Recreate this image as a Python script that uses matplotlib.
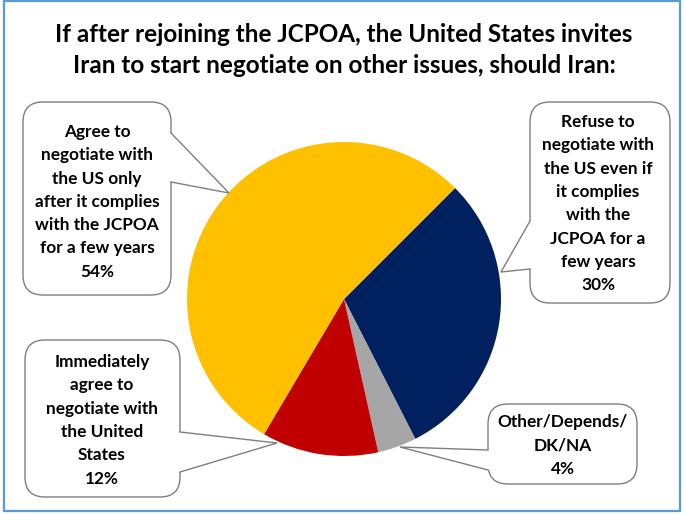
import matplotlib
matplotlib.use("Agg")
import matplotlib.pyplot as plt
from matplotlib.patches import FancyBboxPatch, Polygon, Rectangle

# ---- data ----
title_lines = ["If after rejoining the JCPOA, the United States invites",
               "Iran to start negotiate on other issues, should Iran:"]
categories = [
    "Refuse to\nnegotiate with\nthe US even if\nit complies\nwith the\nJCPOA for a\nfew years",
    "Other/Depends/\nDK/NA",
    "Immediately\nagree to\nnegotiate with\nthe United\nStates",
    "Agree to\nnegotiate with\nthe US only\nafter it complies\nwith the JCPOA\nfor a few years",
]
values = [30, 4, 12, 54]
colors = ["#002060", "#A6A6A6", "#C00000", "#FFC000"]

W, H = 684, 514
FONT = "Lato"

fig = plt.figure(figsize=(W / 100, H / 100), dpi=100)
ax = fig.add_axes([0, 0, 1, 1])


def Y(y):
    return H - y


# pie
cx, cy, R = 344, 299, 157
ax.pie(values, colors=colors, startangle=45, counterclock=False,
       center=(cx, Y(cy)), radius=R, frame=True,
       wedgeprops=dict(linewidth=0))
ax.set_xlim(0, W)
ax.set_ylim(0, H)
ax.set_aspect("auto")
ax.axis("off")

# outer frame
ax.add_patch(Rectangle((4, Y(511)), 676, 510, fill=False,
                       edgecolor="#5B9BD5", linewidth=1.6, zorder=1))

# title
for i, t in enumerate(title_lines):
    ax.text(344, Y(35 + i * 30.5), t, ha="center", va="center",
            fontsize=17.5, fontweight="bold", family=FONT, color="#000000")

# callout boxes: (left, top, right, bottom), base points, tip, text center x, first line y
boxes = [
    dict(box=(530, 102, 670, 303), b1=(530, 221), b2=(530, 269), tip=(501, 272), tx=598, ty=122),
    dict(box=(488, 404, 637, 484), b1=(488, 450), b2=(488, 470), tip=(400, 447), tx=563, ty=422),
    dict(box=(25, 340, 180, 497), b1=(180, 432), b2=(180, 472), tip=(277, 443), tx=102, ty=362),
    dict(box=(23, 102, 171, 295), b1=(171, 133), b2=(171, 182), tip=(229, 193), tx=97, ty=132),
]
edge = "#7F7F7F"
for cat, val, b in zip(categories, values, boxes):
    l, t, r, btm = b["box"]
    ax.add_patch(FancyBboxPatch((l, Y(btm)), r - l, btm - t,
                                boxstyle="round,pad=0,rounding_size=20",
                                facecolor="white", edgecolor=edge,
                                linewidth=1.0, zorder=3))
    (x1, y1), (x2, y2), (xt, yt) = b["b1"], b["b2"], b["tip"]
    inward = 3 if x1 == l else -3
    poly = [(x1 + inward, Y(y1)), (x1, Y(y1)), (xt, Y(yt)), (x2, Y(y2)), (x2 + inward, Y(y2))]
    ax.add_patch(Polygon(poly, closed=True, facecolor="white", edgecolor="none", zorder=4))
    ax.plot([x1, xt, x2], [Y(y1), Y(yt), Y(y2)], color=edge, linewidth=1.0,
            zorder=5, solid_joinstyle="miter")
    lines = cat.split("\n") + [f"{val}%"]
    for k, ln in enumerate(lines):
        ax.text(b["tx"], Y(b["ty"] + k * 23.3), ln, ha="center", va="center",
                fontsize=12.4, fontweight="bold", family=FONT, color="#000000", zorder=6)

fig.savefig("out.png", dpi=100, facecolor="white")
